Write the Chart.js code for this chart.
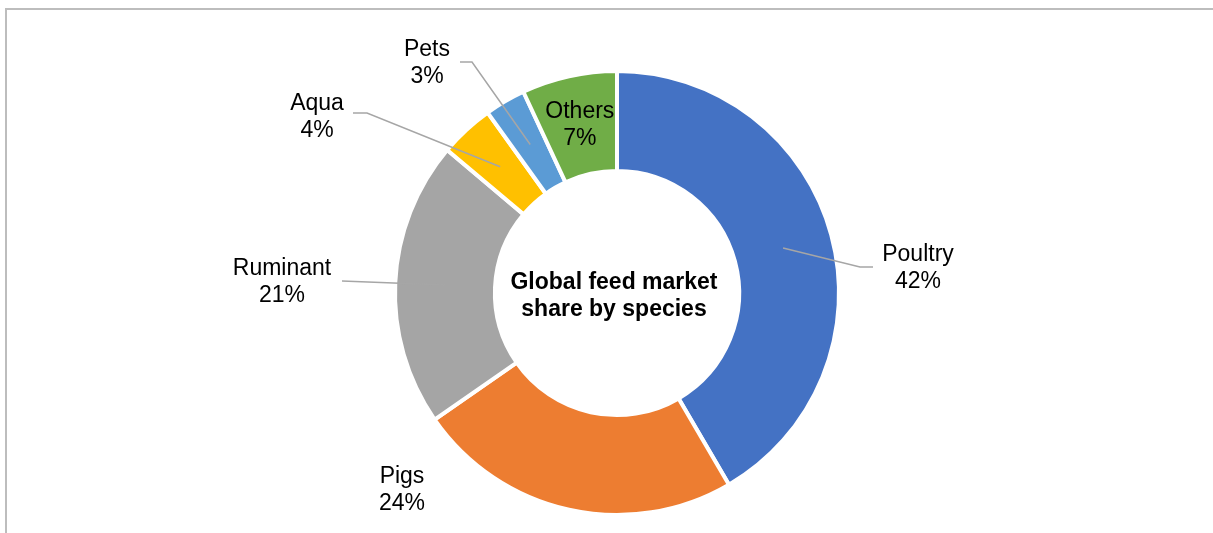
<!DOCTYPE html>
<html>
<head>
<meta charset="utf-8">
<title>Global feed market share by species</title>
<script src="https://cdn.jsdelivr.net/npm/chart.js@4/dist/chart.umd.min.js"></script>
<style>
  html, body { margin: 0; padding: 0; background: #fff; overflow: hidden; }
  #wrap { position: relative; width: 1213px; height: 533px; }
  #frame {
    position: absolute; left: 5px; top: 8px; width: 2000px; height: 2000px;
    border-top: 2px solid #bdbdbd; border-left: 2px solid #bdbdbd;
  }
  #chart { position: absolute; left: 0; top: 0; }
</style>
</head>
<body>
<div id="wrap">
  <div id="frame"></div>
  <canvas id="chart" width="1213" height="533"></canvas>
</div>
<script>
// data
const categories = ['Poultry', 'Pigs', 'Ruminant', 'Aqua', 'Pets', 'Others'];
const shares = [42, 24, 21, 4, 3, 7];
const sliceColors = ['#4472C4', '#ED7D31', '#A5A5A5', '#FFC000', '#5B9BD5', '#70AD47'];
const centerTitle = ['Global feed market', 'share by species'];

// where each label sits, relative to the doughnut centre (null = inside the slice)
// text: label centre, elbow/end: leader line points after it leaves the slice
const labelPlacement = [
  { text: [301, -25], elbow: [243, -26], end: [256, -26] },
  { text: [-215, 197] },
  { text: [-335, -11], end: [-275, -12] },
  { text: [-300, -176], elbow: [-250, -180], end: [-264, -180] },
  { text: [-190, -230], elbow: [-145, -231], end: [-157, -231] },
  null
];

const FONT = '"Liberation Sans", Arial, sans-serif';
const LINE_H = 27;

const labelsPlugin = {
  id: 'sliceLabels',
  afterDatasetsDraw(chart) {
    const ctx = chart.ctx;
    const meta = chart.getDatasetMeta(0);
    const first = meta.data[0];
    const cx = first.x, cy = first.y;

    ctx.save();
    // leader lines
    ctx.strokeStyle = '#A6A6A6';
    ctx.lineWidth = 1.5;
    meta.data.forEach((arc, i) => {
      const p = labelPlacement[i];
      if (!p || !p.end) return;
      const start = arc.getCenterPoint();
      ctx.beginPath();
      ctx.moveTo(start.x, start.y);
      if (p.elbow) ctx.lineTo(cx + p.elbow[0], cy + p.elbow[1]);
      ctx.lineTo(cx + p.end[0], cy + p.end[1]);
      ctx.stroke();
    });

    // category + percentage text
    ctx.fillStyle = '#000';
    ctx.font = '23px ' + FONT;
    ctx.textAlign = 'center';
    ctx.textBaseline = 'middle';
    meta.data.forEach((arc, i) => {
      const p = labelPlacement[i];
      let x, y;
      if (p) {
        x = cx + p.text[0];
        y = cy + p.text[1];
      } else {
        const c = arc.getCenterPoint();
        x = c.x; y = c.y;
      }
      ctx.fillText(categories[i], x, y - LINE_H / 2);
      ctx.fillText(shares[i] + '%', x, y + LINE_H / 2);
    });

    // title in the hole
    ctx.font = 'bold 23px ' + FONT;
    ctx.fillText(centerTitle[0], cx - 3, cy + 3 - LINE_H / 2);
    ctx.fillText(centerTitle[1], cx - 3, cy + 3 + LINE_H / 2);
    ctx.restore();
  }
};

new Chart(document.getElementById('chart'), {
  type: 'doughnut',
  data: {
    labels: categories,
    datasets: [{
      data: shares,
      backgroundColor: sliceColors,
      borderColor: '#ffffff',
      borderWidth: 4,
      hoverOffset: 0
    }]
  },
  options: {
    responsive: false,
    animation: false,
    cutout: '55%',
    layout: { padding: { left: 393, right: 372, top: 69, bottom: 16 } },
    plugins: {
      legend: { display: false },
      tooltip: { enabled: false }
    }
  },
  plugins: [labelsPlugin]
});
</script>
</body>
</html>
